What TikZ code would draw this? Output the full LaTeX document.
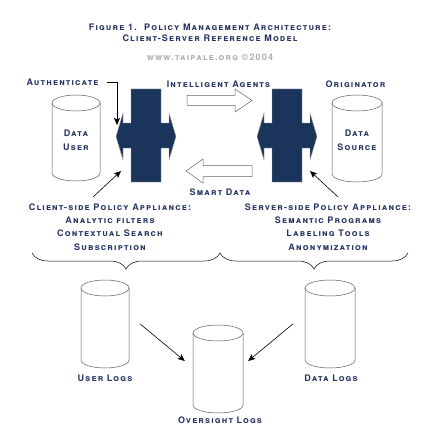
\documentclass[tikz,border=0pt]{standalone}
\usepackage{fontspec}
\newfontfamily\cpf{TeX Gyre Heros}[LetterSpace=13.0, Letters=SmallCaps]
\usetikzlibrary{arrows.meta,decorations.pathreplacing,calc}
\definecolor{navy}{RGB}{38,52,98}
\definecolor{bluefill}{RGB}{27,52,92}
\definecolor{webgray}{RGB}{175,175,175}
\definecolor{cylline}{RGB}{90,90,90}
\newcommand\drumdraw[4]{%
  \draw[cyl] (#1,#2+8) ellipse[x radius=#4,y radius=8];
  \draw[cyl] (#1-#4,#2+8) -- (#1-#4,#3-8) arc[start angle=180,end angle=0,x radius=#4,y radius=8]
    -- (#1+#4,#2+8);}
\newcommand\applshape{%
  \fill[bluefill] (-15,-46.5) -- (15,-46.5) -- (15,-12.5) -- (23,-12.5) -- (23,-22.5)
   -- (30,1) -- (23,24.5) -- (23,12.5) -- (15,12.5) -- (15,46.5) -- (-15,46.5)
   -- (-15,12.5) -- (-23,12.5) -- (-23,24.5) -- (-30,1) -- (-23,-22.5) -- (-23,-12.5)
   -- (-15,-12.5) -- cycle;
  \draw[gray!70,line width=0.4pt] (-15,-46.5) -- (15,-46.5) -- (15,-12.5) -- (23,-12.5) -- (23,-22.5)
   -- (30,1) -- (23,24.5) -- (23,12.5) -- (15,12.5) -- (15,46.5) -- (-15,46.5)
   -- (-15,12.5) -- (-23,12.5) -- (-23,24.5) -- (-30,1) -- (-23,-22.5) -- (-23,-12.5)
   -- (-15,-12.5) -- cycle;}
\begin{document}
\begin{tikzpicture}[x=1pt,y=-1pt,
  lbl/.style={text=navy,font=\cpf\bfseries\fontsize{9}{13.3}\selectfont,inner sep=0pt,align=center},
  web/.style={text=webgray,font=\cpf\bfseries\fontsize{9}{13}\selectfont,inner sep=0pt},
  cyl/.style={draw=cylline,line width=0.5pt},
  arr/.style={draw=black,line width=0.6pt,-{Stealth[length=7pt,width=6pt,inset=1.5pt]}},
  hollow/.style={draw=gray!80!black,line width=0.5pt,fill=white}]
\useasboundingbox (0,0) rectangle (433,433);
\fill[white] (0,0) rectangle (433,433);

% title
\node[lbl] (title) at (210,32.5) {Figure 1.\ \ Policy Management Architecture:\\[-2.3pt]Client-Server Reference Model};
\node[web] (web) at (210,57) {www.taipale.org ©2004};

% top cylinders
\drumdraw{76}{95}{181}{24}
\node[lbl,minimum width=48pt,minimum height=86pt] (du) at (76,140) {Data\\[0.5pt]User};
\drumdraw{357}{95}{182}{25}
\node[lbl,minimum width=50pt,minimum height=87pt] (ds) at (357,140.5) {Data\\[0.5pt]Source};

% appliances
\begin{scope}[shift={(146,135.5)}]\applshape\end{scope}
\node[inner sep=0pt,minimum width=60pt,minimum height=93pt] (lpa) at (146,135.5) {};
\begin{scope}[shift={(287,135.5)}]\applshape\end{scope}
\node[inner sep=0pt,minimum width=60pt,minimum height=93pt] (rpa) at (287,135.5) {};

% hollow arrows
\draw[hollow] (187,95.5) -- (235,95.5) -- (235,89) -- (252,100.5) -- (235,112) -- (235,105.5) -- (187,105.5) -- cycle;
\coordinate (ia) at (219.5,100.5);
\draw[hollow] (252,165.5) -- (203,165.5) -- (203,159) -- (186,171) -- (203,183) -- (203,176.5) -- (252,176.5) -- cycle;
\coordinate (sd) at (219,171);

% top labels
\node[lbl] (auth) at (62.5,82) {Authenticate};
\node[lbl] (intel) at (218.5,84) {Intelligent Agents};
\node[lbl] (orig) at (355.5,84) {Originator};
\node[lbl] (smart) at (220,192) {Smart Data};

\coordinate (authtip) at (117,125);
\draw[arr] ([xshift=8pt]auth.east) -| (authtip);

% side labels
\node[lbl] (cs) at (110,227) {Client-side Policy Appliance:\\Analytic filters\\Contextual Search\\Subscription};
\node[lbl] (ss) at (328,227) {Server-side Policy Appliance:\\Semantic Programs\\Labeling Tools\\Anonymization};
\coordinate (cstail) at (93,197);
\coordinate (cstip) at (121,171);
\coordinate (sstail) at (338,197);
\coordinate (sstip) at (310,171);
\draw[arr] (cstail) -- (cstip);
\draw[arr] (sstail) -- (sstip);

% braces
\draw[line width=0.5pt,decorate,decoration={brace,mirror,amplitude=16pt}] (32,253) -- (220,253);
\draw[line width=0.5pt,decorate,decoration={brace,mirror,amplitude=16pt}] (220,253) -- (408,253);

% bottom cylinders
\drumdraw{105}{280}{368}{24}
\node[inner sep=0pt,minimum width=48pt,minimum height=88pt] (ul) at (105,324) {};
\drumdraw{330}{280}{368}{25}
\node[inner sep=0pt,minimum width=50pt,minimum height=88pt] (dl) at (330,324) {};
\drumdraw{218}{325}{413}{25}
\node[inner sep=0pt,minimum width=50pt,minimum height=88pt] (os) at (218,369) {};

\node[lbl] (ullbl) at (105,378) {User Logs};
\node[lbl] (dllbl) at (331,378) {Data Logs};
\node[lbl] (oslbl) at (220,420) {Oversight Logs};

\draw[arr] ([xshift=11pt]ul.east) -- ([xshift=-8pt,yshift=8pt]os.west);
\draw[arr] ([xshift=-12pt]dl.west) -- ([xshift=5pt,yshift=8pt]os.east);
\end{tikzpicture}
\end{document}
